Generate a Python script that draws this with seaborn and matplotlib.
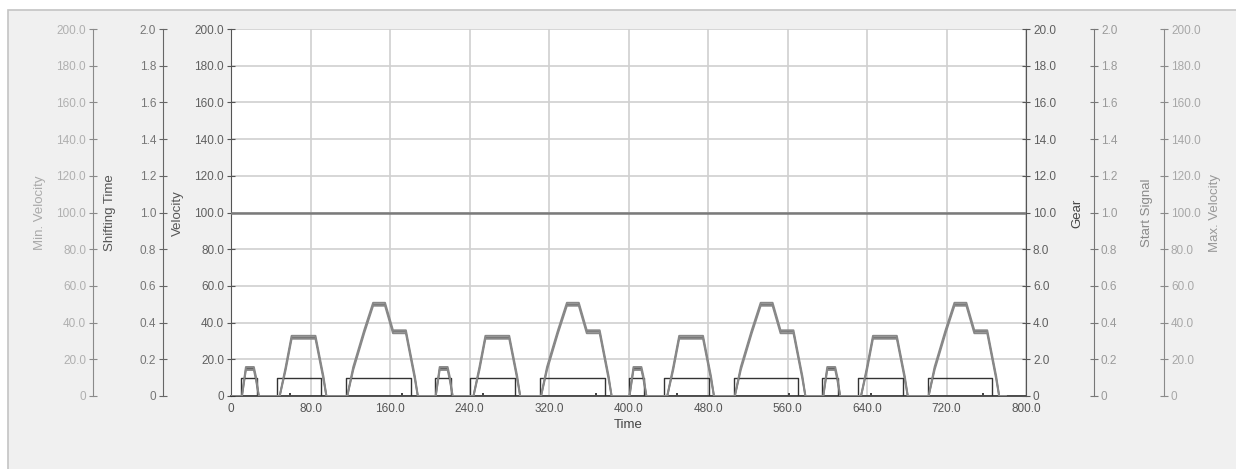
import matplotlib
matplotlib.use("Agg")
import matplotlib.pyplot as plt
from matplotlib.patches import Rectangle
import seaborn as sns
import pandas as pd

# ---------------- data ----------------
# one ECE-15 style urban cycle (seconds, km/h)
cycle_time = [0, 11, 15, 23, 25, 28, 49, 55, 61, 85, 93, 96,
              117, 123, 134, 143, 155, 163, 176, 185, 188]
cycle_velocity = [0, 0, 15, 15, 10, 0, 0, 15, 32, 32, 10, 0,
                  0, 15, 35, 50, 50, 35, 35, 10, 0]
cycle_vmax = [0, 0, 15.8, 15.8, 10.8, 0, 0, 15.8, 32.8, 32.8, 10.8, 0,
              0, 15.8, 35.8, 50.8, 50.8, 35.8, 35.8, 10.8, 0]
cycle_vmin = [0, 0, 14.2, 14.2, 9.2, 0, 0, 14.2, 31.2, 31.2, 9.2, 0,
              0, 14.2, 34.2, 49.2, 49.2, 34.2, 34.2, 9.2, 0]
cycle_starts = [0, 195, 390, 585]
end_time = 780

cycle_gear_time = [0, 10, 26, 46, 91, 116, 181]
cycle_gear_value = [0, 1, 0, 1, 0, 1, 0]

cycle_shift_time = [59, 172]
cycle_shift_value = [0.012, 0.012]

start_signal_time = [0, 800]
start_signal_value = [1.0, 1.0]

x_ticks = [0, 80, 160, 240, 320, 400, 480, 560, 640, 720, 800]
x_tick_labels = ["0", "80.0", "160.0", "240.0", "320.0", "400.0", "480.0",
                 "560.0", "640.0", "720.0", "800.0"]
vel_ticks = [0, 20, 40, 60, 80, 100, 120, 140, 160, 180, 200]
vel_tick_labels = ["0", "20.0", "40.0", "60.0", "80.0", "100.0", "120.0",
                   "140.0", "160.0", "180.0", "200.0"]
unit_ticks = [0, 0.2, 0.4, 0.6, 0.8, 1.0, 1.2, 1.4, 1.6, 1.8, 2.0]
unit_tick_labels = ["0", "0.2", "0.4", "0.6", "0.8", "1.0", "1.2", "1.4",
                    "1.6", "1.8", "2.0"]
gear_ticks = [0, 2, 4, 6, 8, 10, 12, 14, 16, 18, 20]
gear_tick_labels = ["0", "2.0", "4.0", "6.0", "8.0", "10.0", "12.0", "14.0",
                    "16.0", "18.0", "20.0"]

# ---------------- build tables ----------------
def repeat(times, values, final=None):
    t_all, v_all = [], []
    for s in cycle_starts:
        t_all += [s + t for t in times]
        v_all += list(values)
    if final is not None:
        t_all.append(end_time)
        v_all.append(final)
    return pd.DataFrame({"t": t_all, "v": v_all})

df_vel = repeat(cycle_time, cycle_velocity, 0)
df_vmax = repeat(cycle_time, cycle_vmax, 0)
df_vmin = repeat(cycle_time, cycle_vmin, 0)
df_gear = repeat(cycle_gear_time, cycle_gear_value, 0)
df_shift = repeat(cycle_shift_time, cycle_shift_value)
df_start = pd.DataFrame({"t": start_signal_time, "v": start_signal_value})

# ---------------- style ----------------
sns.set_style("white")
plt.rcParams["font.family"] = ["Liberation Sans", "DejaVu Sans"]

W, H = 1236, 469
fig = plt.figure(figsize=(W / 100, H / 100), dpi=100)
fig.patch.set_facecolor("white")
fig.patches.append(Rectangle((8 / W, -0.02), 1.0, (H - 10) / H + 0.02,
                             transform=fig.transFigure, facecolor="#f0f0f0",
                             edgecolor="#c4c4c4", lw=1.2, zorder=-10))

L, R, T, B = 231, 1026, 29, 396
ax = fig.add_axes([L / W, 1 - B / H, (R - L) / W, (B - T) / H])
ax.set_facecolor("white")

TICK_FS = 8.5
LAB_FS = 9.5

def style_axis(a, side, color_spine, color_lab):
    a.tick_params(axis="y", direction="inout", length=6, width=0.8,
                  color=color_spine, labelcolor=color_lab, labelsize=TICK_FS,
                  pad=2)

# main velocity axis
ax.set_xlim(0, 800)
ax.set_ylim(0, 200)
ax.set_xticks(x_ticks)
ax.set_xticklabels(x_tick_labels)
ax.set_yticks(vel_ticks)
ax.set_yticklabels(vel_tick_labels)
ax.grid(True, color="#d0d0d0", lw=1.2)
ax.set_axisbelow(True)
for s in ["top", "right"]:
    ax.spines[s].set_visible(False)
ax.spines["left"].set_color("#555555")
ax.spines["bottom"].set_color("#333333")
ax.spines["bottom"].set_linewidth(1.2)
style_axis(ax, "left", "#555555", "#606060")
ax.tick_params(axis="x", direction="inout", length=6, width=0.8,
               color="#333333", labelcolor="#555555", labelsize=TICK_FS, pad=2)

def make_twin(side, offset_px, ylim, ticks, labels, spine_color, lab_color):
    t = ax.twinx()
    for s in t.spines.values():
        s.set_visible(False)
    t.spines[side].set_visible(True)
    t.spines[side].set_color(spine_color)
    t.spines[side].set_position(("outward", offset_px * 0.72))
    t.yaxis.set_ticks_position(side)
    t.set_ylim(*ylim)
    t.set_yticks(ticks)
    t.set_yticklabels(labels)
    style_axis(t, side, spine_color, lab_color)
    return t

ax_shift = make_twin("left", 68, (0, 2), unit_ticks, unit_tick_labels,
                     "#666666", "#777777")
ax_minv = make_twin("left", 138, (0, 200), vel_ticks, vel_tick_labels,
                    "#8a8a8a", "#b0b0b0")
ax_gear = make_twin("right", 0, (0, 20), gear_ticks, gear_tick_labels,
                    "#555555", "#606060")
ax_start = make_twin("right", 68, (0, 2), unit_ticks, unit_tick_labels,
                     "#777777", "#9a9a9a")
ax_maxv = make_twin("right", 138, (0, 200), vel_ticks, vel_tick_labels,
                    "#8a8a8a", "#a8a8a8")

# ---------------- series ----------------
sns.lineplot(data=df_start, x="t", y="v", ax=ax_start, color="#7a7a7a",
             lw=1.8, estimator=None, sort=False)
sns.lineplot(data=df_vmin, x="t", y="v", ax=ax_minv, color="#888888",
             lw=1.4, estimator=None, sort=False)
sns.lineplot(data=df_vmax, x="t", y="v", ax=ax_maxv, color="#888888",
             lw=1.4, estimator=None, sort=False)
sns.lineplot(data=df_vel, x="t", y="v", ax=ax, color="#666666",
             lw=0.9, estimator=None, sort=False)
sns.lineplot(data=df_gear, x="t", y="v", ax=ax_gear, color="#333333",
             lw=1.0, estimator=None, sort=False, drawstyle="steps-post")
sns.scatterplot(data=df_shift, x="t", y="v", ax=ax_shift, color="#444444",
                marker="s", s=3, linewidth=0)

for a in [ax, ax_shift, ax_minv, ax_gear, ax_start, ax_maxv]:
    a.set_xlim(0, 800)
    a.set_ylabel("")
for a in [ax_shift, ax_minv, ax_gear, ax_start, ax_maxv]:
    a.set_xlabel("")
ax.set_xlabel("Time", fontsize=LAB_FS, color="#444444", labelpad=3)
ax.set_ylim(0, 200)
ax_shift.set_ylim(0, 2)
ax_minv.set_ylim(0, 200)
ax_gear.set_ylim(0, 20)
ax_start.set_ylim(0, 2)
ax_maxv.set_ylim(0, 200)

# ---------------- axis titles ----------------
yc = 1 - 213 / H
def ylab(xpx, text, color):
    fig.text(xpx / W, yc, text, rotation=90, ha="center", va="center",
             fontsize=LAB_FS, color=color)

ylab(40, "Min. Velocity", "#aaaaaa")
ylab(110, "Shifting Time", "#555555")
ylab(178, "Velocity", "#555555")
ylab(1077, "Gear", "#444444")
ylab(1147, "Start Signal", "#8a8a8a")
ylab(1215, "Max. Velocity", "#999999")

fig.savefig("out.png", dpi=100, facecolor=fig.get_facecolor())
